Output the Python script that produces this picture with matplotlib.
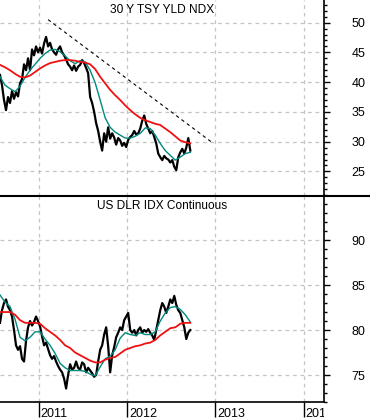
"""Two-panel chart: 30Y treasury yield index vs US dollar index, with moving averages."""
import matplotlib
matplotlib.use("Agg")
import matplotlib.pyplot as plt
import matplotlib.dates as mdates
from matplotlib.lines import Line2D
from matplotlib.patches import Rectangle
from matplotlib.ticker import MultipleLocator
import pandas as pd

plt.rcParams["font.family"] = ["Liberation Sans", "DejaVu Sans"]

START = "2010-07-25"
END = "2012-09-19"

# 30 Y TSY YLD NDX (yield x10), roughly every 8 days
tsy_price = [41.2, 39.5, 37.0, 35.3, 37.5, 36.5, 38.5, 37.2, 38.3, 37.6,
             39.8, 40.5, 43.0, 42.0, 44.0, 42.0, 45.5, 44.5, 46.0, 45.0,
             45.8, 44.8, 46.5, 47.6, 46.0, 46.6, 45.5, 45.0, 44.6, 45.5,
             46.0, 45.0, 44.5, 43.8, 43.0, 42.6, 42.0, 42.8, 41.9, 42.6,
             42.9, 43.7, 43.2, 42.4, 41.5, 37.5, 36.5, 35.0, 33.1, 31.8,
             30.0, 28.5, 31.4, 30.0, 32.4, 30.5, 31.4, 30.7, 29.5, 30.6,
             30.2, 29.3, 29.8, 29.1, 30.3, 30.8, 31.1, 31.8, 31.2, 31.4,
             32.2, 33.5, 34.4, 33.0, 32.2, 31.4, 31.8, 30.8, 29.7, 28.0,
             27.4, 26.9, 27.6, 27.2, 27.0, 26.5, 26.9, 25.8, 25.2, 27.4,
             28.2, 28.8, 28.0, 29.0, 30.6, 28.5]
tsy_fast = [40.9, 39.5, 38.9, 38.4, 39.3, 40.8, 42.0, 43.0, 44.0, 44.8,
            45.4, 45.5, 45.1, 44.4, 43.6, 43.1, 43.6, 43.4, 42.0, 39.9,
            37.0, 34.0, 32.4, 31.6, 31.1, 30.6, 30.6, 30.9, 31.4, 32.3,
            32.2, 31.1, 29.7, 28.5, 27.7, 26.9, 27.4, 28.0, 28.2]
tsy_slow = [42.9, 42.5, 42.0, 41.4, 40.9, 40.8, 41.1, 41.7, 42.3, 42.8,
            43.2, 43.4, 43.6, 43.7, 43.7, 43.6, 43.4, 43.3, 43.0, 42.2,
            40.9, 39.8, 38.7, 37.8, 37.0, 36.1, 35.3, 34.6, 34.0, 33.6,
            33.3, 33.0, 32.8, 32.2, 31.6, 30.9, 30.2, 29.9, 29.7]
trend_dates = ["2011-02-09", "2012-12-17"]
trend_vals = [50.5, 29.9]

# US DLR IDX Continuous
dlr_price = [80.8, 82.2, 83.0, 83.4, 82.6, 82.2, 81.5, 80.0, 78.3, 77.8,
             78.2, 76.8, 76.5, 78.8, 80.3, 81.0, 80.5, 80.9, 81.5, 81.0,
             80.4, 79.3, 78.3, 78.6, 77.9, 77.2, 76.8, 77.1, 76.5, 76.0,
             75.6, 75.3, 74.6, 73.5, 75.0, 76.2, 75.6, 75.8, 76.5, 75.8,
             75.6, 76.4, 76.2, 75.3, 75.8, 75.5, 75.2, 74.8, 75.0, 76.5,
             77.8, 78.3, 79.5, 80.3, 78.2, 75.3, 77.2, 78.1, 79.2, 79.7,
             80.3, 80.0, 81.1, 81.5, 81.9, 80.0, 79.7, 80.0, 79.4, 80.0,
             80.3, 79.7, 80.0, 79.8, 80.1, 79.7, 79.4, 78.9, 80.0, 81.1,
             82.2, 83.0, 82.6, 81.9, 82.6, 83.4, 83.0, 83.8, 82.8, 82.2,
             81.9, 81.1, 80.3, 79.0, 79.7, 80.0]
dlr_fast = [83.9, 83.1, 82.6, 81.2, 79.2, 78.8, 79.2, 79.8, 79.8, 79.0,
            78.3, 77.4, 76.3, 75.8, 75.5, 75.5, 75.5, 75.4, 75.1, 74.9,
            75.9, 76.8, 77.1, 77.8, 79.1, 79.7, 79.5, 79.4, 79.7, 79.5,
            79.5, 79.8, 81.0, 81.9, 82.5, 82.6, 82.3, 81.7, 80.9]
dlr_slow = [82.0, 82.0, 82.0, 81.7, 81.1, 80.8, 80.8, 80.8, 80.7, 80.2,
            79.8, 79.4, 78.9, 78.3, 78.0, 77.5, 77.2, 76.9, 76.6, 76.4,
            76.4, 76.7, 76.9, 77.0, 77.4, 77.8, 78.0, 78.2, 78.3, 78.5,
            78.6, 78.9, 79.4, 79.8, 80.2, 80.3, 80.7, 80.8, 80.8]

years = [2011, 2012, 2013, 2014]

W, H = 370, 419
fig = plt.figure(figsize=(W / 100, H / 100), dpi=100)
right = 324 / W
ax1 = fig.add_axes([0, 1 - 196 / H, right, 196 / H])
ax2 = fig.add_axes([0, 1 - 402 / H, right, (402 - 196) / H])

grid_kw = dict(color="#c4c4c4", linestyle=(0, (3, 3)), linewidth=0.9)


def dates(n):
    return pd.date_range(START, END, periods=n)


def draw(ax, price, fast, slow, ylim, title):
    ax.plot(dates(len(price)), price, color="black", lw=1.6, zorder=3)
    ax.plot(dates(len(fast)), fast, color="#00897f", lw=1.0, zorder=4)
    ax.plot(dates(len(slow)), slow, color="#f01010", lw=1.3, zorder=5)
    ax.set_xlim(pd.Timestamp("2010-07-25"), pd.Timestamp("2014-03-26"))
    ax.set_ylim(*ylim)
    ax.xaxis.set_major_locator(mdates.YearLocator())
    ax.yaxis.set_major_locator(MultipleLocator(5))
    ax.yaxis.set_minor_locator(MultipleLocator(1))
    ax.yaxis.tick_right()
    ax.tick_params(axis="y", which="major", direction="out", length=4.5,
                   width=1, pad=15.5, labelsize=9)
    ax.tick_params(axis="y", which="minor", direction="out", length=2.5, width=1)
    ax.grid(True, which="major", **grid_kw)
    for s in ("top", "left"):
        ax.spines[s].set_visible(False)
    ax.spines["right"].set_linewidth(1.2)
    ax.text(0.5, 1 - 10 / (ax.bbox.height), title, transform=ax.transAxes,
            ha="center", va="center", fontsize=8.6)


draw(ax1, tsy_price, tsy_fast, tsy_slow, (20.87, 53.8), "30 Y TSY YLD NDX")
ax1.plot(pd.to_datetime(trend_dates), trend_vals, color="black", lw=0.8,
         linestyle=(0, (3, 3)), zorder=6)
ax1.spines["bottom"].set_visible(False)
ax1.tick_params(axis="x", which="both", length=0, labelbottom=False)

draw(ax2, dlr_price, dlr_fast, dlr_slow, (72.0, 94.9), "US DLR IDX Continuous")
ax2.spines["bottom"].set_linewidth(1.2)
ax2.tick_params(axis="x", which="major", direction="out", length=11,
                width=1, labelbottom=False)
# year labels sit right of their tick and are cut at the right spine
clip = Rectangle((0, 0), right, 1, transform=fig.transFigure)
for yr in years:
    t = ax2.annotate(str(yr), xy=(pd.Timestamp(f"{yr}-01-01"), 0),
                     xycoords=("data", "axes fraction"), xytext=(1.5, -4),
                     textcoords="offset points", ha="left", va="top",
                     fontsize=9, annotation_clip=False)
    t.set_clip_path(clip)

# separator line between panels, full width
fig.add_artist(Line2D([0, 1], [1 - 196 / H] * 2, color="black", lw=1.5))

fig.savefig("out.png", dpi=100)
